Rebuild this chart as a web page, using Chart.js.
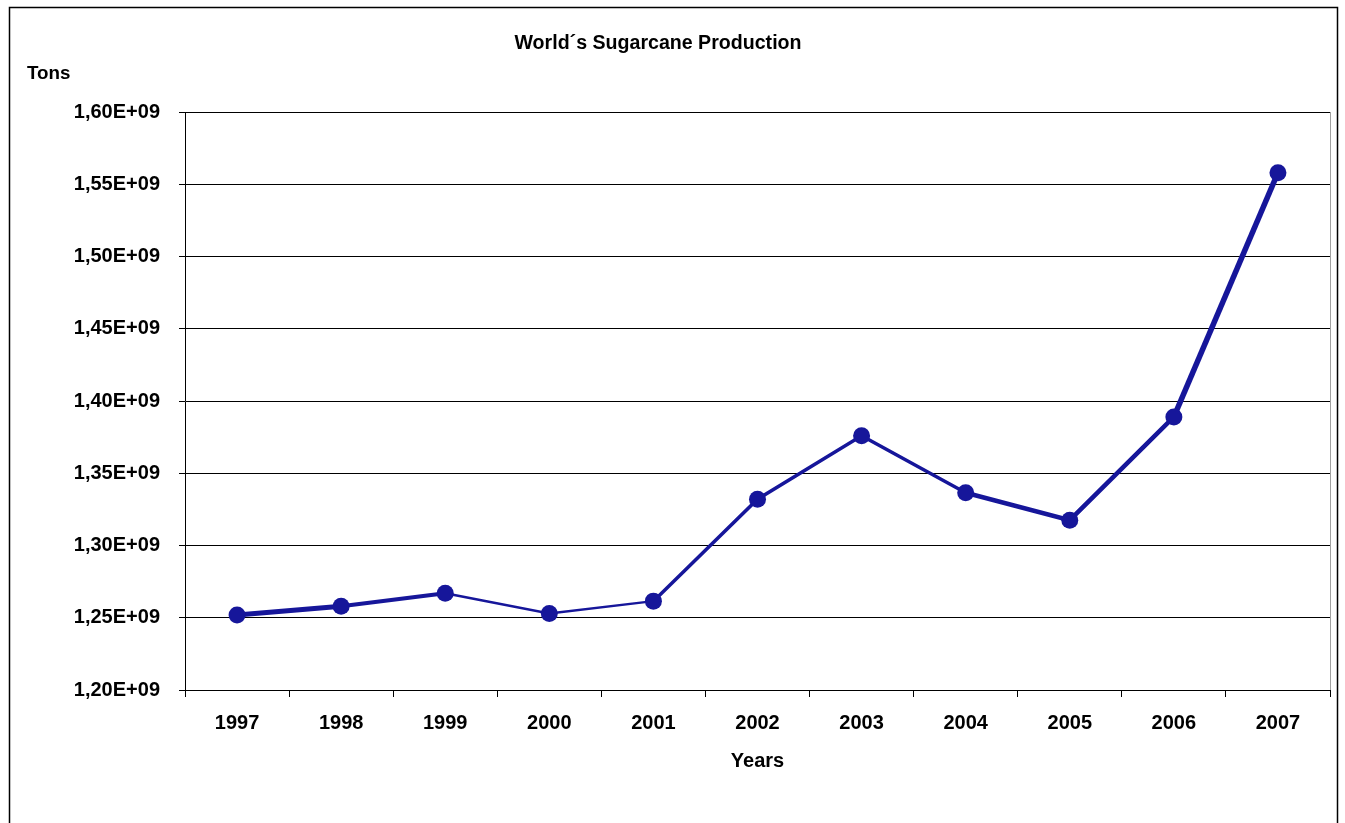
<!DOCTYPE html>
<html>
<head>
<meta charset="utf-8">
<title>World´s Sugarcane Production</title>
<script src="https://cdn.jsdelivr.net/npm/chart.js@4/dist/chart.umd.min.js"></script>
<style>
  html, body { margin: 0; padding: 0; background: #ffffff; }
  #wrap { position: relative; width: 1345px; height: 823px; }
  canvas { display: block; }
</style>
</head>
<body>
<div id="wrap"><canvas id="chart" width="1345" height="823"></canvas></div>
<script>
// Harvest years on the category axis
const years = ['1997', '1998', '1999', '2000', '2001', '2002', '2003', '2004', '2005', '2006', '2007'];
// World sugarcane production, tons
const production = [1.2519e9, 1.2580e9, 1.2670e9, 1.2530e9, 1.2615e9, 1.3320e9, 1.3760e9, 1.3365e9, 1.3175e9, 1.3890e9, 1.5580e9];
// Value axis range and step
const yMin = 1.20e9;
const yMax = 1.60e9;
const yStep = 0.05e9;

const chartTitle = 'World´s Sugarcane Production';
const yUnitLabel = 'Tons';
const xAxisLabel = 'Years';

// Styling
const lineColor = '#16169a';
const textFont = '"Liberation Sans", Arial, sans-serif';
const segmentWidths = [5, 4, 2.5, 2.5, 3.5, 3.5, 3.5, 4.5, 4.5, 5.5];

// Excel-style labels: 1,25E+09
function sciComma(v) {
  const exp = Math.floor(Math.log10(Math.abs(v)));
  const mant = v / Math.pow(10, exp);
  return mant.toFixed(2).replace('.', ',') + 'E+' + String(exp).padStart(2, '0');
}

// Frame, heading, unit label and plot-area right edge
const decorations = {
  id: 'decorations',
  beforeDraw(chart) {
    const ctx = chart.ctx;
    ctx.save();
    ctx.fillStyle = '#ffffff';
    ctx.fillRect(0, 0, chart.width, chart.height);
    ctx.strokeStyle = '#000000';
    ctx.lineWidth = 1.5;
    ctx.strokeRect(9.5, 7.5, 1328, 840);
    ctx.restore();
  },
  afterDraw(chart) {
    const ctx = chart.ctx;
    const a = chart.chartArea;
    ctx.save();
    ctx.strokeStyle = '#a0a0a0';
    ctx.lineWidth = 1;
    ctx.beginPath();
    ctx.moveTo(a.right + 0.5, a.top);
    ctx.lineTo(a.right + 0.5, a.bottom);
    ctx.stroke();
    ctx.fillStyle = '#000000';
    ctx.textBaseline = 'middle';
    ctx.font = 'bold 19.6px ' + textFont;
    ctx.textAlign = 'center';
    ctx.fillText(chartTitle, 658, 43.5);
    ctx.font = 'bold 18.8px ' + textFont;
    ctx.textAlign = 'left';
    ctx.fillText(yUnitLabel, 27, 73.5);
    ctx.restore();
  }
};

new Chart(document.getElementById('chart'), {
  type: 'line',
  data: {
    labels: years,
    datasets: [{
      label: 'Production',
      data: production,
      borderColor: lineColor,
      backgroundColor: lineColor,
      borderWidth: 3,
      segment: {
        borderWidth: ctx => segmentWidths[ctx.p0DataIndex]
      },
      pointRadius: 8.5,
      pointHoverRadius: 8.5,
      pointBorderWidth: 0,
      pointBackgroundColor: lineColor,
      tension: 0,
      fill: false
    }]
  },
  options: {
    responsive: false,
    animation: false,
    events: [],
    layout: { padding: { left: 0, top: 112, right: 15, bottom: 0 } },
    plugins: {
      legend: { display: false },
      title: { display: false },
      tooltip: { enabled: false }
    },
    scales: {
      x: {
        type: 'category',
        offset: true,
        afterFit(scale) { scale.height = 133; },
        grid: {
          offset: true,
          drawOnChartArea: false,
          drawTicks: true,
          tickLength: 7,
          color: '#000000',
          lineWidth: 1
        },
        border: { display: true, color: '#000000', width: 1 },
        ticks: {
          padding: 14,
          color: '#000000',
          font: { family: textFont, size: 20, weight: 'bold' },
          maxRotation: 0,
          autoSkip: false
        },
        title: {
          display: true,
          text: xAxisLabel,
          color: '#000000',
          font: { family: textFont, size: 20, weight: 'bold' },
          padding: { top: 0, bottom: 50 }
        }
      },
      y: {
        min: yMin,
        max: yMax,
        afterFit(scale) { scale.width = 185; },
        grid: {
          color: '#000000',
          lineWidth: 1,
          tickLength: 6,
          drawTicks: true
        },
        border: { display: true, color: '#000000', width: 1 },
        ticks: {
          stepSize: yStep,
          padding: 19,
          color: '#000000',
          font: { family: textFont, size: 20, weight: 'bold' },
          callback: v => sciComma(v)
        }
      }
    }
  },
  plugins: [decorations]
});
</script>
</body>
</html>
